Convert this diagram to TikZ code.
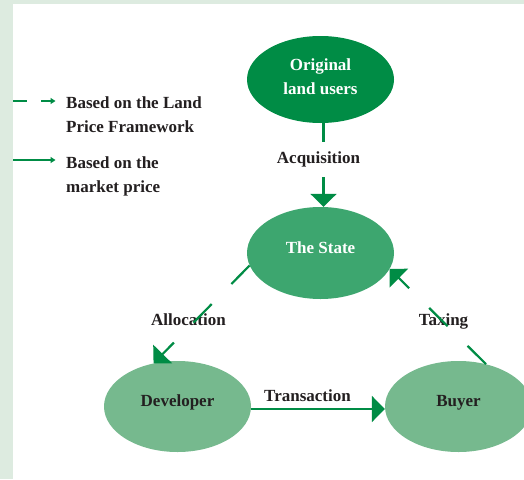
\documentclass[tikz,border=0pt]{standalone}
\usepackage{fontspec}
\setmainfont{Liberation Serif}
\usetikzlibrary{shapes.geometric,arrows.meta}
\definecolor{strip}{HTML}{DDEBE0}
\definecolor{dgreen}{HTML}{008C45}
\definecolor{mgreen}{HTML}{3DA66F}
\definecolor{lgreen}{HTML}{76B98E}
\definecolor{ink}{HTML}{231F20}
\tikzset{
  ell/.style={ellipse, draw=none, inner sep=0pt, minimum width=147pt,
    font=\bfseries\fontsize{17}{24}\selectfont, align=center},
  lbl/.style={font=\bfseries\fontsize{17}{24}\selectfont, text=ink, inner sep=0pt},
  conn/.style={draw=dgreen, line width=2.2pt},
  bigtip/.style={-{Triangle[length=13pt,width=26pt]}},
  dashconn/.style={conn, dash pattern=on 26pt off 28pt},
  legline/.style={draw=dgreen, line width=1.8pt, -{Triangle[length=5pt,width=6pt]}},
}
\begin{document}
\begin{tikzpicture}[x=1pt,y=-1pt]
\useasboundingbox (0,0) rectangle (524,479);
\begin{scope}
\clip (0,0) rectangle (524,479);
\fill[strip] (0,0) rectangle (524,479);
\fill[white] (13,4) rectangle (524,479);

% ellipses
\node[ell, fill=dgreen, text=white, minimum height=87pt, text depth=6pt] (orig) at (320.5,79.5) {Original\\land users};
\node[ell, fill=mgreen, text=white, minimum height=92pt, text height=12pt, text depth=12pt] (state) at (320.5,253) {The State};
\node[ell, fill=lgreen, text=ink, minimum height=91pt, text height=12pt, text depth=12pt] (dev) at (177.5,406.5) {Developer};
\node[ell, fill=lgreen, text=ink, minimum height=91pt, text height=12pt, text depth=12pt] (buyer) at (458.5,406.5) {Buyer};

% labels
\node[lbl, text height=21pt, text depth=14pt] (acq) at (318.5,159.5) {Acquisition};
\node[lbl, anchor=base] (alloc) at (188.5,325) {Allocation};
\node[lbl, anchor=base] (tax) at (443.5,325) {Taxing};
\node[lbl, anchor=base] (trans) at (307.5,401) {Transaction};

% connectors
\coordinate (ax) at ([xshift=3pt]orig.south);
\coordinate (bx) at ([xshift=3pt]state.north);
\draw[conn] (ax) -- (ax |- acq.north);
\draw[conn, bigtip] (ax |- acq.south) -- (bx);
\draw[dashconn, bigtip] (state.190) -- (dev.119);
\draw[dashconn, bigtip] (buyer.57) -- (state.347);
\draw[conn, bigtip] ([yshift=-2.5pt]dev.east) -- ([yshift=-2.5pt]buyer.west);

% legend
\coordinate (l1a) at (13,101);
\coordinate (l1b) at (55.5,101);
\coordinate (l2a) at (13,160);
\coordinate (l2b) at (55.5,160);
\draw[legline, dash pattern=on 14pt off 14pt] (l1a) -- (l1b);
\draw[legline] (l2a) -- (l2b);
\node[lbl, anchor=west, align=left] (leg1) at (66,114.5) {Based on the Land\\Price Framework};
\node[lbl, anchor=west, align=left] (leg2) at (66,176.5) {Based on the\\market price};
\end{scope}
\end{tikzpicture}
\end{document}
